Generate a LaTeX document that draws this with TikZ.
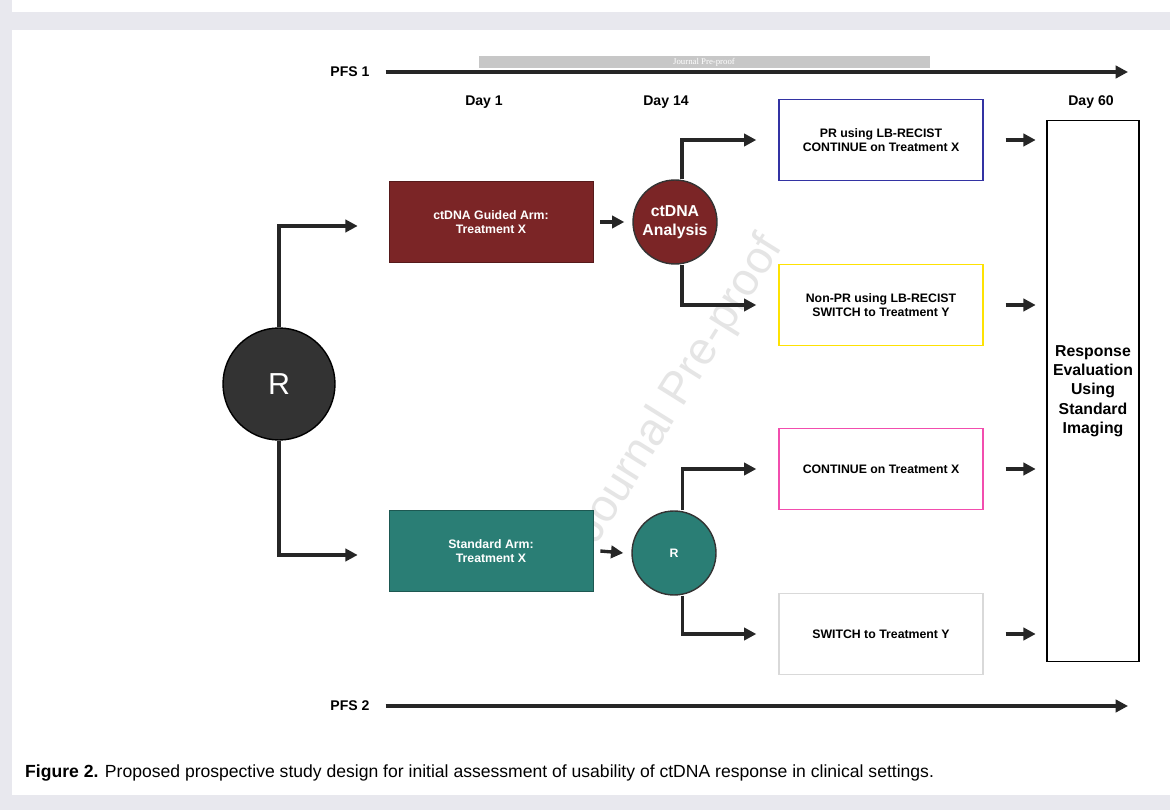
\documentclass[tikz,border=0pt]{standalone}
\usepackage{fontspec}
\setmainfont{Liberation Sans}
\newfontfamily\wmfont{Liberation Serif}
\usetikzlibrary{positioning,arrows.meta,calc}
\definecolor{armred}{HTML}{7B2526}
\definecolor{armteal}{HTML}{2A7E75}
\definecolor{darkR}{HTML}{333333}
\definecolor{pagegray}{HTML}{E8E8EE}
\begin{document}
\begin{tikzpicture}[
    x=0.02cm, y=-0.02cm,
    >={Triangle[length=7pt,width=7pt]},
    flow/.style={->, line width=1.9pt, draw=black!85},
    arm/.style={rectangle, minimum width=4.08cm, minimum height=1.62cm, text=white, font=\scriptsize\bfseries, align=center},
    outcome/.style={rectangle, draw, line width=0.8pt, minimum width=4.08cm, minimum height=1.62cm, font=\scriptsize\bfseries, align=center},
    hub/.style={circle, draw=black!80, line width=0.8pt, minimum size=1.68cm, inner sep=0pt, text=white, font=\small\bfseries, align=center},
    lbl/.style={font=\footnotesize\bfseries}
]
\useasboundingbox (0,0) rectangle (1170,810);
% page background
\fill[pagegray] (0,0) rectangle (1170,810);
\fill[white] (12,0) rectangle (1170,12);
\fill[white] (12,30) rectangle (1170,795);

% watermark
\node[text=black!10, font=\fontsize{26}{26}\selectfont, rotate=58] (wm) at (680,390) {Journal Pre-proof};

% timelines
\node[lbl] (pfsa) at (350,72) {PFS 1};
\node[lbl] (pfsb) at (350,706) {PFS 2};
\coordinate (pfsaend) at (1128,72);
\coordinate (pfsbend) at (1128,706);
\draw[flow] (pfsa.east) ++(10,0) -- (pfsaend);
\draw[flow] (pfsb.east) ++(10,0) -- (pfsbend);
\fill[black!22] (479,56) rectangle (930,68);
\node[text=white, font=\wmfont\tiny] at (704,62) {Journal Pre-proof};
\node[lbl] (day1) at (484,102) {Day 1};
\node[lbl] (day14) at (666,102) {Day 14};
\node[lbl] (day60) at (1091,102) {Day 60};

% randomisation
\node[circle, fill=darkR, draw=black, line width=0.8pt, minimum size=2.24cm, text=white, font=\LARGE] (rand) at (279,384) {R};

% arms
\node[arm, fill=armred, draw=armred!70!black] (guided) at (491,222) {ctDNA Guided Arm:\\Treatment X};
\node[arm, fill=armteal, draw=armteal!70!black] (standard) at (491,551) {Standard Arm:\\Treatment X};
\node[hub, fill=armred] (analysis) at (675,222) {ctDNA\\Analysis};
\node[hub, fill=armteal, font=\scriptsize\bfseries] (rand2) at (674,553) {R};

% outcomes
\node[outcome, draw=blue!55!black!80] (pr) at (881,140) {PR using LB-RECIST\\CONTINUE on Treatment X};
\node[outcome, draw=yellow!85!orange] (nonpr) at (881,305) {Non-PR using LB-RECIST\\SWITCH to Treatment Y};
\node[outcome, draw=magenta!70] (cont) at (881,469) {CONTINUE on Treatment X};
\node[outcome, draw=black!15] (switch) at (881,634) {SWITCH to Treatment Y};
\node[rectangle, draw, line width=0.8pt, minimum width=1.76cm, minimum height=10.82cm, font=\small\bfseries, align=center] (resp) at (1093,391) {Response\\Evaluation\\Using\\Standard\\Imaging};

% connectors
\draw[flow] (rand.north) |- ($(guided.west)+(-31,4)$);
\draw[flow] (rand.south) |- ($(standard.west)+(-31,4)$);
\draw[flow] ($(guided.east)+(7,0)$) -- ($(analysis.west)+(-8,0)$);
\draw[flow] ($(standard.east)+(7,0)$) -- ($(rand2.west)+(-8,0)$);
\draw[flow] ([xshift=4]analysis.north) |- ($(pr.west)+(-22,0)$);
\draw[flow] ([xshift=4]analysis.south) |- ($(nonpr.west)+(-22,0)$);
\draw[flow] ([xshift=5]rand2.north) |- ($(cont.west)+(-22,0)$);
\draw[flow] ([xshift=5]rand2.south) |- ($(switch.west)+(-22,0)$);
\foreach \o in {pr,nonpr,cont,switch}
  \draw[flow] ($(\o.east)+(22,0)$) -- ($(\o.east)+(52,0)$);

% caption
\node[anchor=west, font=\normalsize] (caption) at (19,773) {\textbf{Figure 2.} Proposed prospective study design for initial assessment of usability of ctDNA response in clinical settings.};
\end{tikzpicture}
\end{document}
